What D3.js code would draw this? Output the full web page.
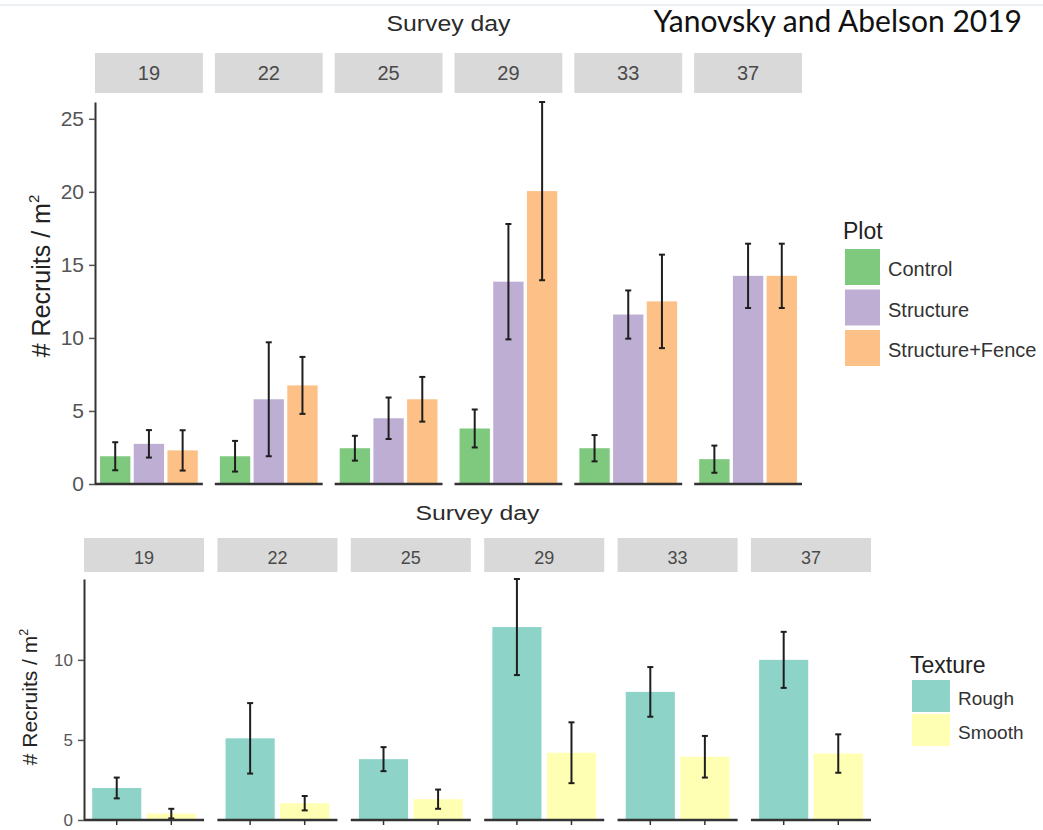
<!DOCTYPE html>
<html>
<head>
<meta charset="utf-8">
<script src="https://cdn.jsdelivr.net/npm/d3@7"></script>
<style>
  html, body { margin: 0; padding: 0; background: #ffffff; }
  svg { display: block; }
  text { font-family: "Liberation Sans", Arial, sans-serif; }
</style>
</head>
<body>
<svg id="chart" width="1043" height="830"></svg>
<script>
// Survey days (facet labels)
const days = ["19", "22", "25", "29", "33", "37"];

// Recruits per m² by plot type: means and standard errors per survey day
const plotTypes = ["Control", "Structure", "Structure+Fence"];
const controlMean   = [1.9, 1.9, 2.45, 3.8, 2.45, 1.7];
const controlSE     = [0.96, 1.05, 0.85, 1.3, 0.9, 0.93];
const structureMean = [2.75, 5.8, 4.5, 13.85, 11.6, 14.25];
const structureSE   = [0.94, 3.9, 1.42, 3.95, 1.65, 2.2];
const fenceMean     = [2.3, 6.75, 5.8, 20.05, 12.5, 14.25];
const fenceSE       = [1.38, 1.95, 1.53, 6.1, 3.2, 2.2];

// Recruits per m² by surface texture
const textures   = ["Rough", "Smooth"];
const roughMean  = [2.0, 5.1, 3.8, 12.05, 8.0, 10.0];
const roughSE    = [0.65, 2.2, 0.75, 3.0, 1.55, 1.75];
const smoothMean = [0.4, 1.05, 1.3, 4.2, 3.95, 4.15];
const smoothSE   = [0.3, 0.45, 0.6, 1.9, 1.3, 1.2];

// Axis tick values
const plotTicks = [0, 5, 10, 15, 20, 25];
const textureTicks = [0, 5, 10];

const plotColors = ["#7FC97F", "#BEAED4", "#FDC086"];
const textureColors = ["#8DD3C7", "#FFFFB3"];

const svg = d3.select("#chart");

// faint frame line along the top
svg.append("line")
  .attr("x1", 0).attr("x2", 1043).attr("y1", 5).attr("y2", 5)
  .attr("stroke", "#e6edf2").attr("stroke-width", 1.5);

// citation
svg.append("text")
  .attr("x", 1022).attr("y", 32)
  .attr("text-anchor", "end")
  .style("font-family", "Lato, 'Open Sans', sans-serif")
  .style("font-size", "30px")
  .attr("fill", "#111")
  .text("Yanovsky and Abelson 2019");

function drawFacetPanel(o) {
  const g = svg.append("g");
  const series = o.keys.map((k, j) => ({ key: k, mean: o.means[j], se: o.ses[j], color: o.colors[j] }));
  const yMax = d3.max(series, s => d3.max(s.mean, (m, i) => m + s.se[i]));
  const y = d3.scaleLinear().domain([0, yMax]).range([o.yBottom, o.yTop]);
  const facet = d3.scaleBand().domain(days).range([o.x0, o.x1]).paddingInner(o.facetGap);
  const inner = d3.scaleBand().domain(o.keys).range([0, facet.bandwidth()])
    .paddingInner(0.1).paddingOuter(0.15);

  // facet title
  g.append("text")
    .attr("x", (o.x0 + o.x1) / 2).attr("y", o.titleY)
    .attr("text-anchor", "middle")
    .attr("textLength", o.titleWidth)
    .attr("lengthAdjust", "spacingAndGlyphs")
    .style("font-size", o.titleFont + "px")
    .attr("fill", "#2b2b2b")
    .text("Survey day");

  days.forEach((day, i) => {
    const fx = facet(day);
    const fg = g.append("g").attr("transform", `translate(${fx},0)`);

    // strip
    fg.append("rect")
      .attr("x", 0).attr("y", o.stripTop)
      .attr("width", facet.bandwidth()).attr("height", o.stripBottom - o.stripTop)
      .attr("fill", "#d9d9d9");
    fg.append("text")
      .attr("x", facet.bandwidth() / 2).attr("y", o.stripBaseline)
      .attr("text-anchor", "middle")
      .style("font-size", o.stripFont + "px")
      .attr("fill", "#4a4a4a")
      .text(day);

    // bars
    series.forEach(s => {
      fg.append("rect")
        .attr("x", inner(s.key))
        .attr("y", y(s.mean[i]))
        .attr("width", inner.bandwidth())
        .attr("height", y(0) - y(s.mean[i]))
        .attr("fill", s.color);
    });

    // error bars
    series.forEach(s => {
      const cx = inner(s.key) + inner.bandwidth() / 2;
      const lo = Math.max(0, s.mean[i] - s.se[i]);
      const hi = s.mean[i] + s.se[i];
      const eb = fg.append("g").attr("stroke", "#1e1e1e").attr("stroke-width", 2);
      eb.append("line").attr("x1", cx).attr("x2", cx).attr("y1", y(lo)).attr("y2", y(hi));
      eb.append("line").attr("x1", cx - o.capHalf).attr("x2", cx + o.capHalf).attr("y1", y(lo)).attr("y2", y(lo));
      eb.append("line").attr("x1", cx - o.capHalf).attr("x2", cx + o.capHalf).attr("y1", y(hi)).attr("y2", y(hi));
      if (o.xTicks) {
        fg.append("line").attr("x1", cx).attr("x2", cx)
          .attr("y1", o.yBottom).attr("y2", o.yBottom + 5)
          .attr("stroke", "#333").attr("stroke-width", 1.5);
      }
    });

    // baseline
    fg.append("line")
      .attr("x1", 0).attr("x2", facet.bandwidth())
      .attr("y1", o.yBottom).attr("y2", o.yBottom)
      .attr("stroke", "#333").attr("stroke-width", 2.5);
  });

  // y axis
  const axis = g.append("g")
    .attr("transform", `translate(${o.x0},0)`)
    .call(d3.axisLeft(y).tickValues(o.ticks).tickSizeInner(6).tickSizeOuter(0).tickPadding(5));
  axis.select(".domain").attr("stroke", "#333").attr("stroke-width", 2);
  axis.selectAll(".tick line").attr("stroke", "#555").attr("stroke-width", 1.5);
  axis.selectAll(".tick text")
    .style("font-family", "'Liberation Sans', Arial, sans-serif")
    .style("font-size", o.tickFont + "px")
    .attr("fill", "#555");

  // y axis title
  const yt = g.append("text")
    .attr("transform", `translate(${o.yTitleX},${o.yTitleY}) rotate(-90)`)
    .attr("text-anchor", "middle")
    .style("font-size", o.yTitleFont + "px")
    .attr("fill", "#222");
  yt.append("tspan").text("# Recruits / m");
  yt.append("tspan").attr("dy", -o.yTitleFont * 0.45)
    .style("font-size", (o.yTitleFont * 0.6) + "px").text("2");

  // legend
  const lg = g.append("g");
  lg.append("text")
    .attr("x", o.legend.x).attr("y", o.legend.titleY)
    .style("font-size", o.legend.titleFont + "px")
    .attr("fill", "#222")
    .text(o.legend.title);
  series.forEach((s, j) => {
    const ky = o.legend.keyY + j * o.legend.step;
    lg.append("rect")
      .attr("x", o.legend.x + 2).attr("y", ky)
      .attr("width", o.legend.keyW).attr("height", o.legend.keyH)
      .attr("fill", s.color);
    lg.append("text")
      .attr("x", o.legend.x + o.legend.keyW + 10).attr("y", ky + o.legend.keyH / 2 + 4)
      .attr("dominant-baseline", "middle")
      .style("font-size", o.legend.labelFont + "px")
      .attr("fill", "#333")
      .text(s.key);
  });
}

// Plot treatment panel
drawFacetPanel({
  keys: plotTypes,
  means: [controlMean, structureMean, fenceMean],
  ses: [controlSE, structureSE, fenceSE],
  colors: plotColors,
  ticks: plotTicks,
  x0: 95, x1: 802, facetGap: 0.1,
  yTop: 102, yBottom: 484,
  stripTop: 53, stripBottom: 93, stripBaseline: 80, stripFont: 20,
  titleY: 31, titleFont: 22, titleWidth: 124,
  tickFont: 21, capHalf: 3, xTicks: false,
  yTitleX: 50, yTitleY: 276, yTitleFont: 25,
  legend: { x: 843, title: "Plot", titleY: 239, titleFont: 23,
            keyY: 249, step: 40.5, keyW: 35, keyH: 36, labelFont: 20 }
});

// Surface texture panel
drawFacetPanel({
  keys: textures,
  means: [roughMean, smoothMean],
  ses: [roughSE, smoothSE],
  colors: textureColors,
  ticks: textureTicks,
  x0: 84, x1: 871, facetGap: 0.1,
  yTop: 579, yBottom: 820,
  stripTop: 538, stripBottom: 572, stripBaseline: 564, stripFont: 18,
  titleY: 520, titleFont: 20, titleWidth: 124,
  tickFont: 17, capHalf: 3, xTicks: true,
  yTitleX: 37, yTitleY: 697, yTitleFont: 21,
  legend: { x: 910, title: "Texture", titleY: 673, titleFont: 23,
            keyY: 680, step: 34, keyW: 38, keyH: 32, labelFont: 19 }
});
</script>
</body>
</html>
